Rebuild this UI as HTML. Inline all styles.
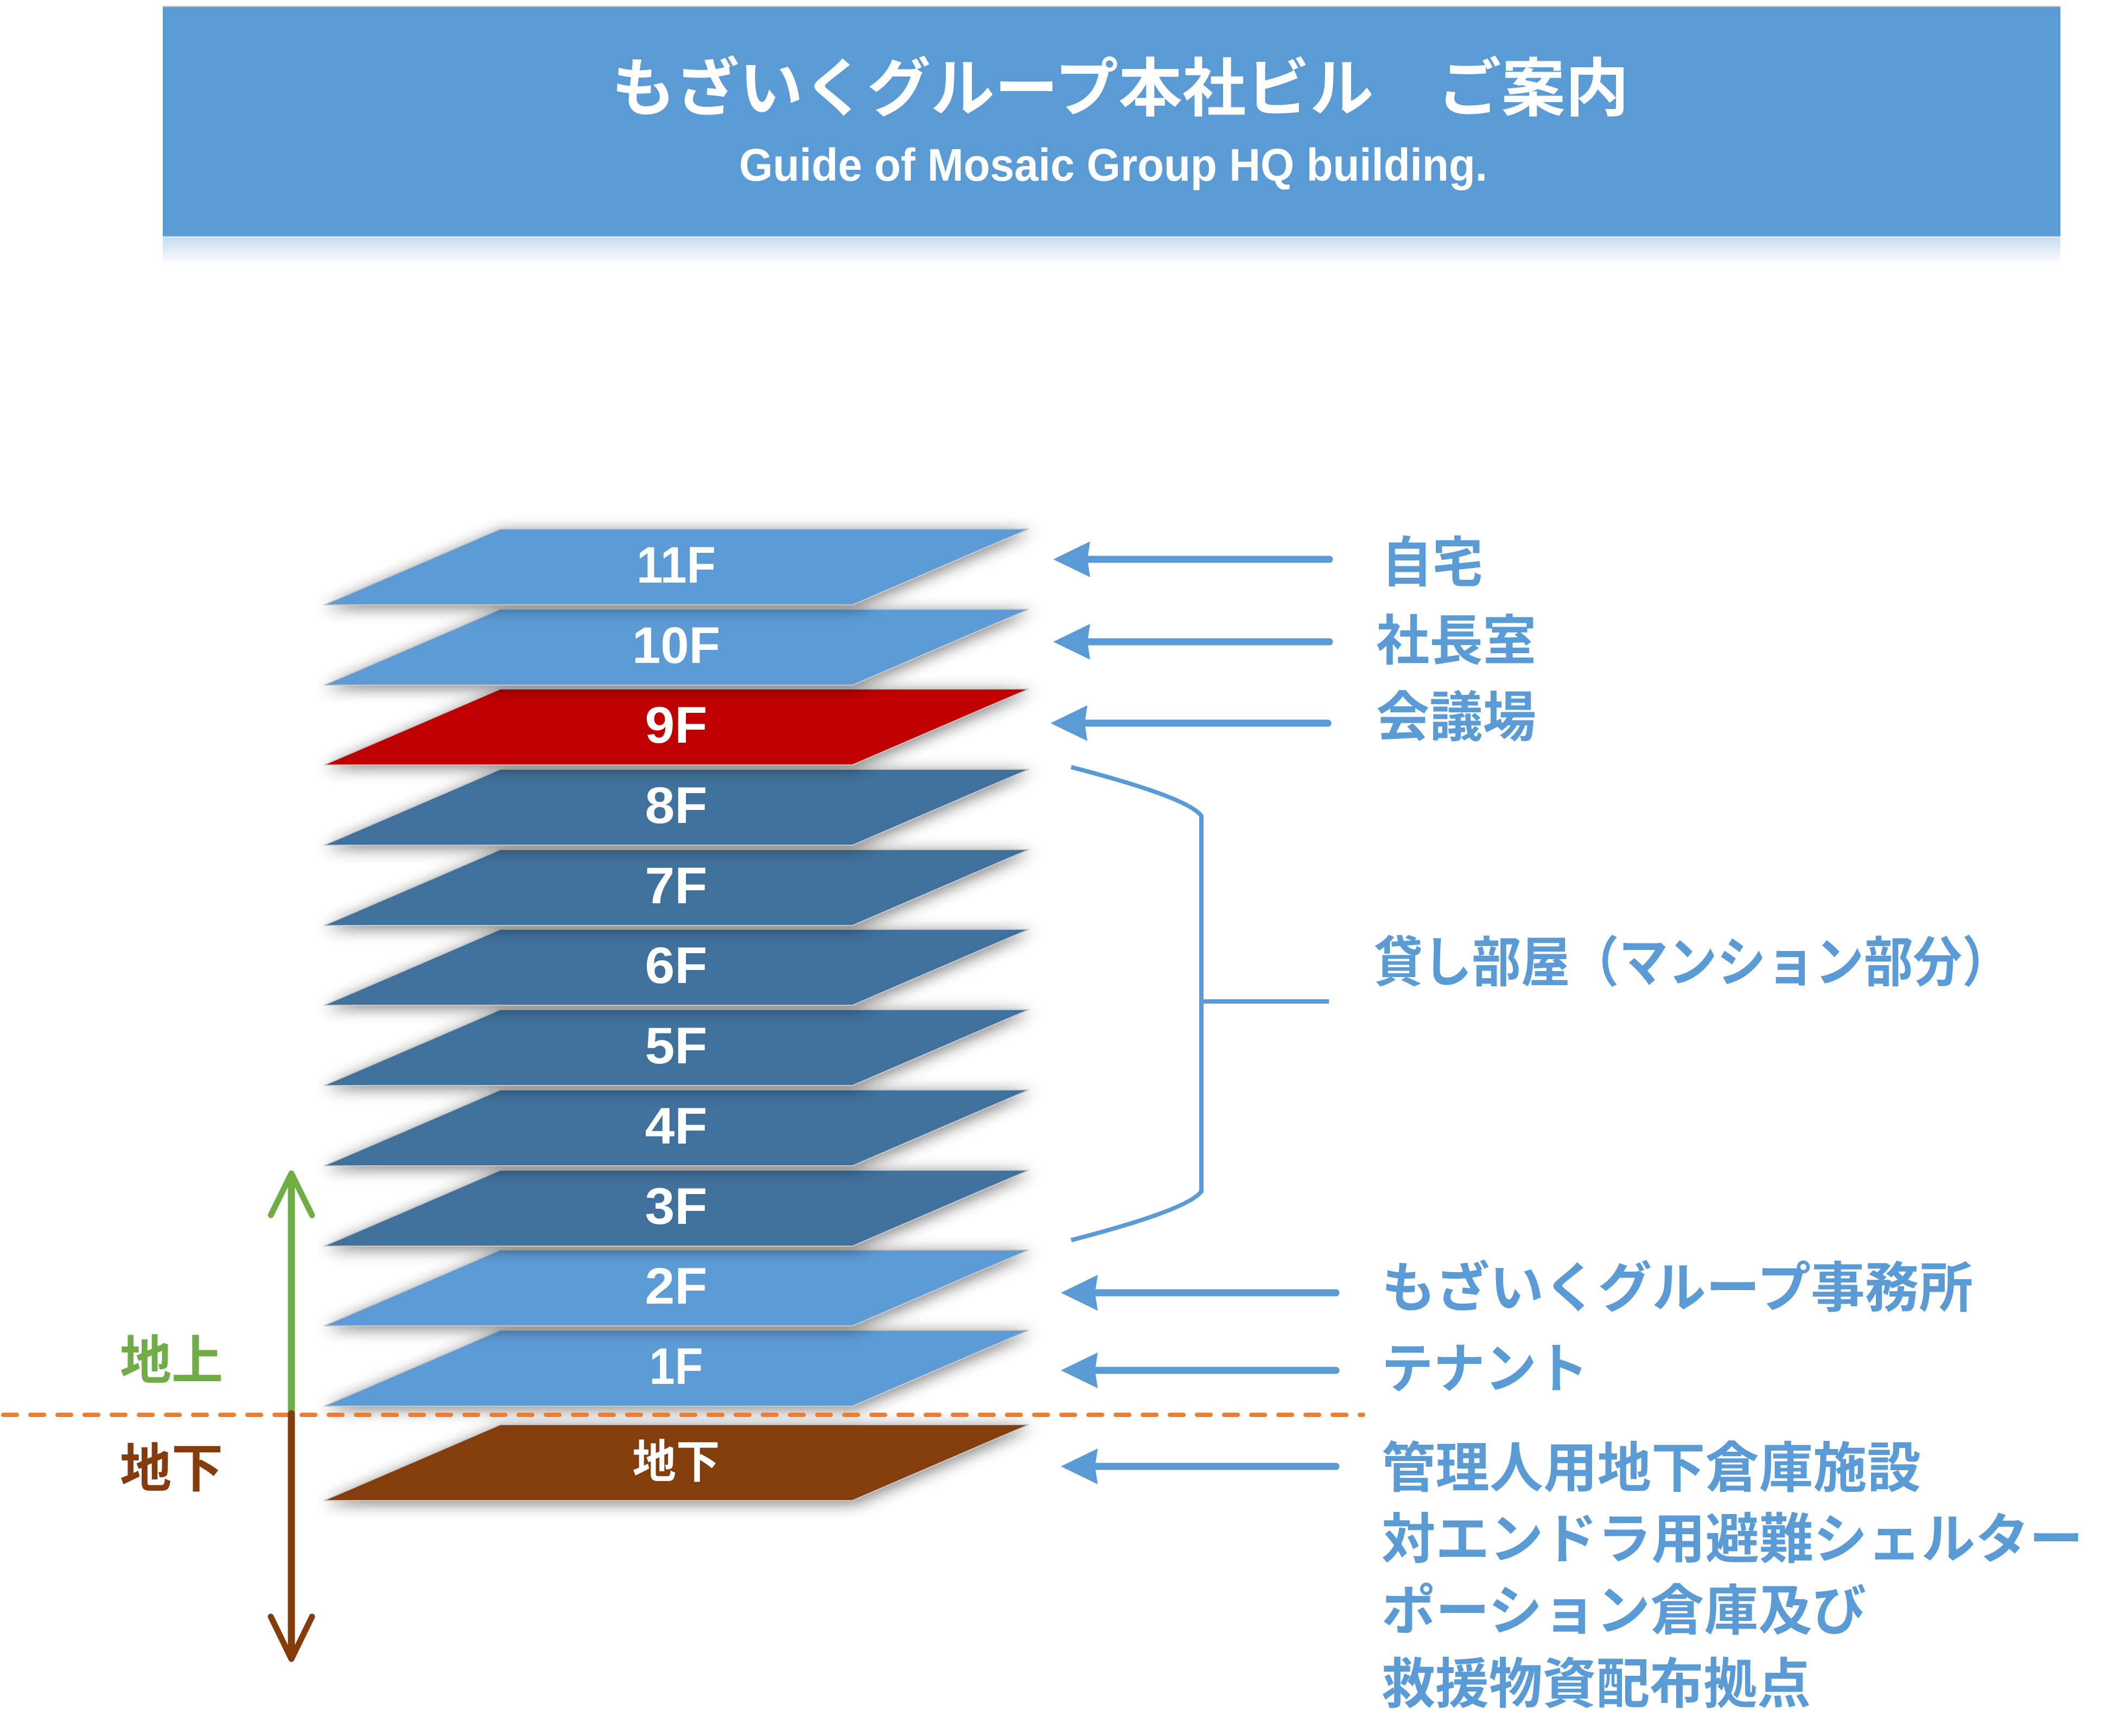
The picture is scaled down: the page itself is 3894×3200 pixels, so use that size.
<!DOCTYPE html>
<html><head><meta charset="utf-8"><style>html,body{margin:0;padding:0;background:#fff}svg{display:block}</style></head>
<body>
<svg xmlns="http://www.w3.org/2000/svg" width="3894" height="3200" viewBox="0 0 3894 3200">
<defs>
<filter id="sh" x="-20%" y="-60%" width="140%" height="220%">
<feGaussianBlur in="SourceAlpha" stdDeviation="14"/>
<feOffset dx="4" dy="5"/>
<feComponentTransfer><feFuncA type="linear" slope="0.5"/></feComponentTransfer>
<feMerge><feMergeNode/><feMergeNode in="SourceGraphic"/></feMerge>
</filter>
<linearGradient id="refl" x1="0" y1="0" x2="0" y2="1">
<stop offset="0" stop-color="#c9dcef"/>
<stop offset="1" stop-color="#ffffff"/>
</linearGradient>
</defs>
<rect width="3894" height="3200" fill="#fff"/>

<!-- Banner -->
<rect x="300" y="438" width="3497" height="50" fill="url(#refl)"/>
<rect x="300" y="11" width="3497" height="426" fill="#5B9BD5"/>
<rect x="300" y="11" width="3497" height="2" fill="#bfbfbf"/>
<rect x="300" y="435" width="3497" height="2" fill="#b8c4d0"/>
<text x="1127" y="204" textLength="1875" lengthAdjust="spacingAndGlyphs" font-family="'Liberation Sans','Noto Sans CJK JP',sans-serif" font-weight="bold" font-size="117" fill="#fff">もざいくグループ本社ビル　ご案内</text>
<text x="1362" y="333" textLength="1379" lengthAdjust="spacingAndGlyphs" font-family="'Liberation Sans',sans-serif" font-weight="bold" font-size="84" fill="#fff">Guide of Mosaic Group HQ building.</text>

<!-- Floors (bottom first) -->
<g font-family="'Liberation Sans','Noto Sans CJK JP',sans-serif" font-weight="bold" fill="#fff" text-anchor="middle">
<polygon points="922,2626 1896,2626 1571,2766 597,2766" fill="#843C0C" stroke="#c8c8c8" stroke-width="2" filter="url(#sh)"/>
<text x="1246" y="2724" font-size="84" textLength="161" lengthAdjust="spacingAndGlyphs" fill="#fff">地下</text>

<polygon points="922,2452 1896,2452 1571,2592 597,2592" fill="#5B9BD5" stroke="#c8c8c8" stroke-width="2" filter="url(#sh)"/>
<text x="1246" y="2551" font-size="95" textLength="99" lengthAdjust="spacingAndGlyphs">1F</text>

<polygon points="922,2304 1896,2304 1571,2444 597,2444" fill="#5B9BD5" stroke="#c8c8c8" stroke-width="2" filter="url(#sh)"/>
<text x="1246" y="2403" font-size="95" textLength="115" lengthAdjust="spacingAndGlyphs">2F</text>

<polygon points="922,2157 1896,2157 1571,2297 597,2297" fill="#41719C" stroke="#c8c8c8" stroke-width="2" filter="url(#sh)"/>
<text x="1246" y="2256" font-size="95" textLength="115" lengthAdjust="spacingAndGlyphs">3F</text>

<polygon points="922,2009 1896,2009 1571,2149 597,2149" fill="#41719C" stroke="#c8c8c8" stroke-width="2" filter="url(#sh)"/>
<text x="1246" y="2108" font-size="95" textLength="115" lengthAdjust="spacingAndGlyphs">4F</text>

<polygon points="922,1861 1896,1861 1571,2001 597,2001" fill="#41719C" stroke="#c8c8c8" stroke-width="2" filter="url(#sh)"/>
<text x="1246" y="1960" font-size="95" textLength="115" lengthAdjust="spacingAndGlyphs">5F</text>

<polygon points="922,1713 1896,1713 1571,1853 597,1853" fill="#41719C" stroke="#c8c8c8" stroke-width="2" filter="url(#sh)"/>
<text x="1246" y="1812" font-size="95" textLength="115" lengthAdjust="spacingAndGlyphs">6F</text>

<polygon points="922,1566 1896,1566 1571,1706 597,1706" fill="#41719C" stroke="#c8c8c8" stroke-width="2" filter="url(#sh)"/>
<text x="1246" y="1665" font-size="95" textLength="115" lengthAdjust="spacingAndGlyphs">7F</text>

<polygon points="922,1418 1896,1418 1571,1558 597,1558" fill="#41719C" stroke="#c8c8c8" stroke-width="2" filter="url(#sh)"/>
<text x="1246" y="1517" font-size="95" textLength="115" lengthAdjust="spacingAndGlyphs">8F</text>

<polygon points="922,1270 1896,1270 1571,1410 597,1410" fill="#C00000" stroke="#c8c8c8" stroke-width="2" filter="url(#sh)"/>
<text x="1246" y="1369" font-size="95" textLength="115" lengthAdjust="spacingAndGlyphs">9F</text>

<polygon points="922,1123 1896,1123 1571,1263 597,1263" fill="#5B9BD5" stroke="#c8c8c8" stroke-width="2" filter="url(#sh)"/>
<text x="1246" y="1222" font-size="95" textLength="162" lengthAdjust="spacingAndGlyphs">10F</text>

<polygon points="922,975 1896,975 1571,1115 597,1115" fill="#5B9BD5" stroke="#c8c8c8" stroke-width="2" filter="url(#sh)"/>
<text x="1246" y="1074" font-size="95" textLength="146" lengthAdjust="spacingAndGlyphs">11F</text>
</g>

<!-- Right arrows -->
<g fill="#5B9BD5" stroke="none">
<path d="M1941,1031 L2009,998 L2004,1031 L2009,1064 Z"/>
<path d="M1941,1183 L2009,1150 L2004,1183 L2009,1216 Z"/>
<path d="M1936,1333 L2004,1300 L1999,1333 L2004,1366 Z"/>
<path d="M1955,2383 L2023,2350 L2018,2383 L2023,2416 Z"/>
<path d="M1955,2526 L2023,2493 L2018,2526 L2023,2559 Z"/>
<path d="M1955,2703 L2023,2670 L2018,2703 L2023,2736 Z"/>
</g>
<g stroke="#5B9BD5" stroke-width="13" stroke-linecap="round" fill="none">
<line x1="2000" y1="1031" x2="2450" y2="1031"/>
<line x1="2000" y1="1183" x2="2450" y2="1183"/>
<line x1="1995" y1="1333" x2="2447" y2="1333"/>
<line x1="2014" y1="2383" x2="2462" y2="2383"/>
<line x1="2014" y1="2526" x2="2462" y2="2526"/>
<line x1="2014" y1="2703" x2="2462" y2="2703"/>
</g>

<!-- Bracket -->
<path d="M1974,1414 Q2190,1470 2214,1504 L2214,2196 Q2190,2230 1974,2286" fill="none" stroke="#5B9BD5" stroke-width="8"/>
<line x1="2214" y1="1846" x2="2449" y2="1846" stroke="#5B9BD5" stroke-width="8"/>

<!-- Dashed ground line -->
<line x1="6" y1="2608" x2="2512" y2="2608" stroke="#ED7D31" stroke-width="8" stroke-linecap="round" stroke-dasharray="25 25"/>

<!-- Vertical arrows -->
<line x1="537" y1="2606" x2="537" y2="2168" stroke="#70AD47" stroke-width="13" stroke-linecap="round"/>
<path d="M499,2240 L537,2163 L575,2240" fill="none" stroke="#70AD47" stroke-width="11" stroke-linecap="round" stroke-linejoin="round"/>
<line x1="537" y1="2606" x2="537" y2="3054" stroke="#843C0C" stroke-width="13" stroke-linecap="round"/>
<path d="M499,2980 L537,3058 L575,2980" fill="none" stroke="#843C0C" stroke-width="11" stroke-linecap="round" stroke-linejoin="round"/>

<!-- Left labels -->
<g font-family="'Liberation Sans','Noto Sans CJK JP',sans-serif" font-weight="bold" font-size="97">
<text x="221" y="2542" textLength="190" lengthAdjust="spacingAndGlyphs" fill="#70AD47">地上</text>
<text x="221" y="2741" textLength="190" lengthAdjust="spacingAndGlyphs" fill="#843C0C">地下</text>
</g>

<!-- Right labels -->
<g font-family="'Liberation Sans','Noto Sans CJK JP',sans-serif" font-weight="bold" font-size="100" fill="#5B9BD5">
<text x="2546" y="1072" textLength="187" lengthAdjust="spacingAndGlyphs">自宅</text>
<text x="2536" y="1216" textLength="295" lengthAdjust="spacingAndGlyphs">社長室</text>
<text x="2536" y="1357" textLength="295" lengthAdjust="spacingAndGlyphs">会議場</text>
<text x="2532" y="1809" textLength="1174" lengthAdjust="spacingAndGlyphs">貸し部屋（マンション部分）</text>
<text x="2546" y="2409" textLength="1090" lengthAdjust="spacingAndGlyphs">もざいくグループ事務所</text>
<text x="2546" y="2558" textLength="381" lengthAdjust="spacingAndGlyphs">テナント</text>
<text x="2546" y="2741" textLength="994" lengthAdjust="spacingAndGlyphs">管理人用地下倉庫施設</text>
<text x="2546" y="2872" textLength="1293" lengthAdjust="spacingAndGlyphs">対エンドラ用避難シェルター</text>
<text x="2546" y="3004" textLength="893" lengthAdjust="spacingAndGlyphs">ポーション倉庫及び</text>
<text x="2546" y="3139" textLength="791" lengthAdjust="spacingAndGlyphs">救援物資配布拠点</text>
</g>
</svg>
</body></html>
